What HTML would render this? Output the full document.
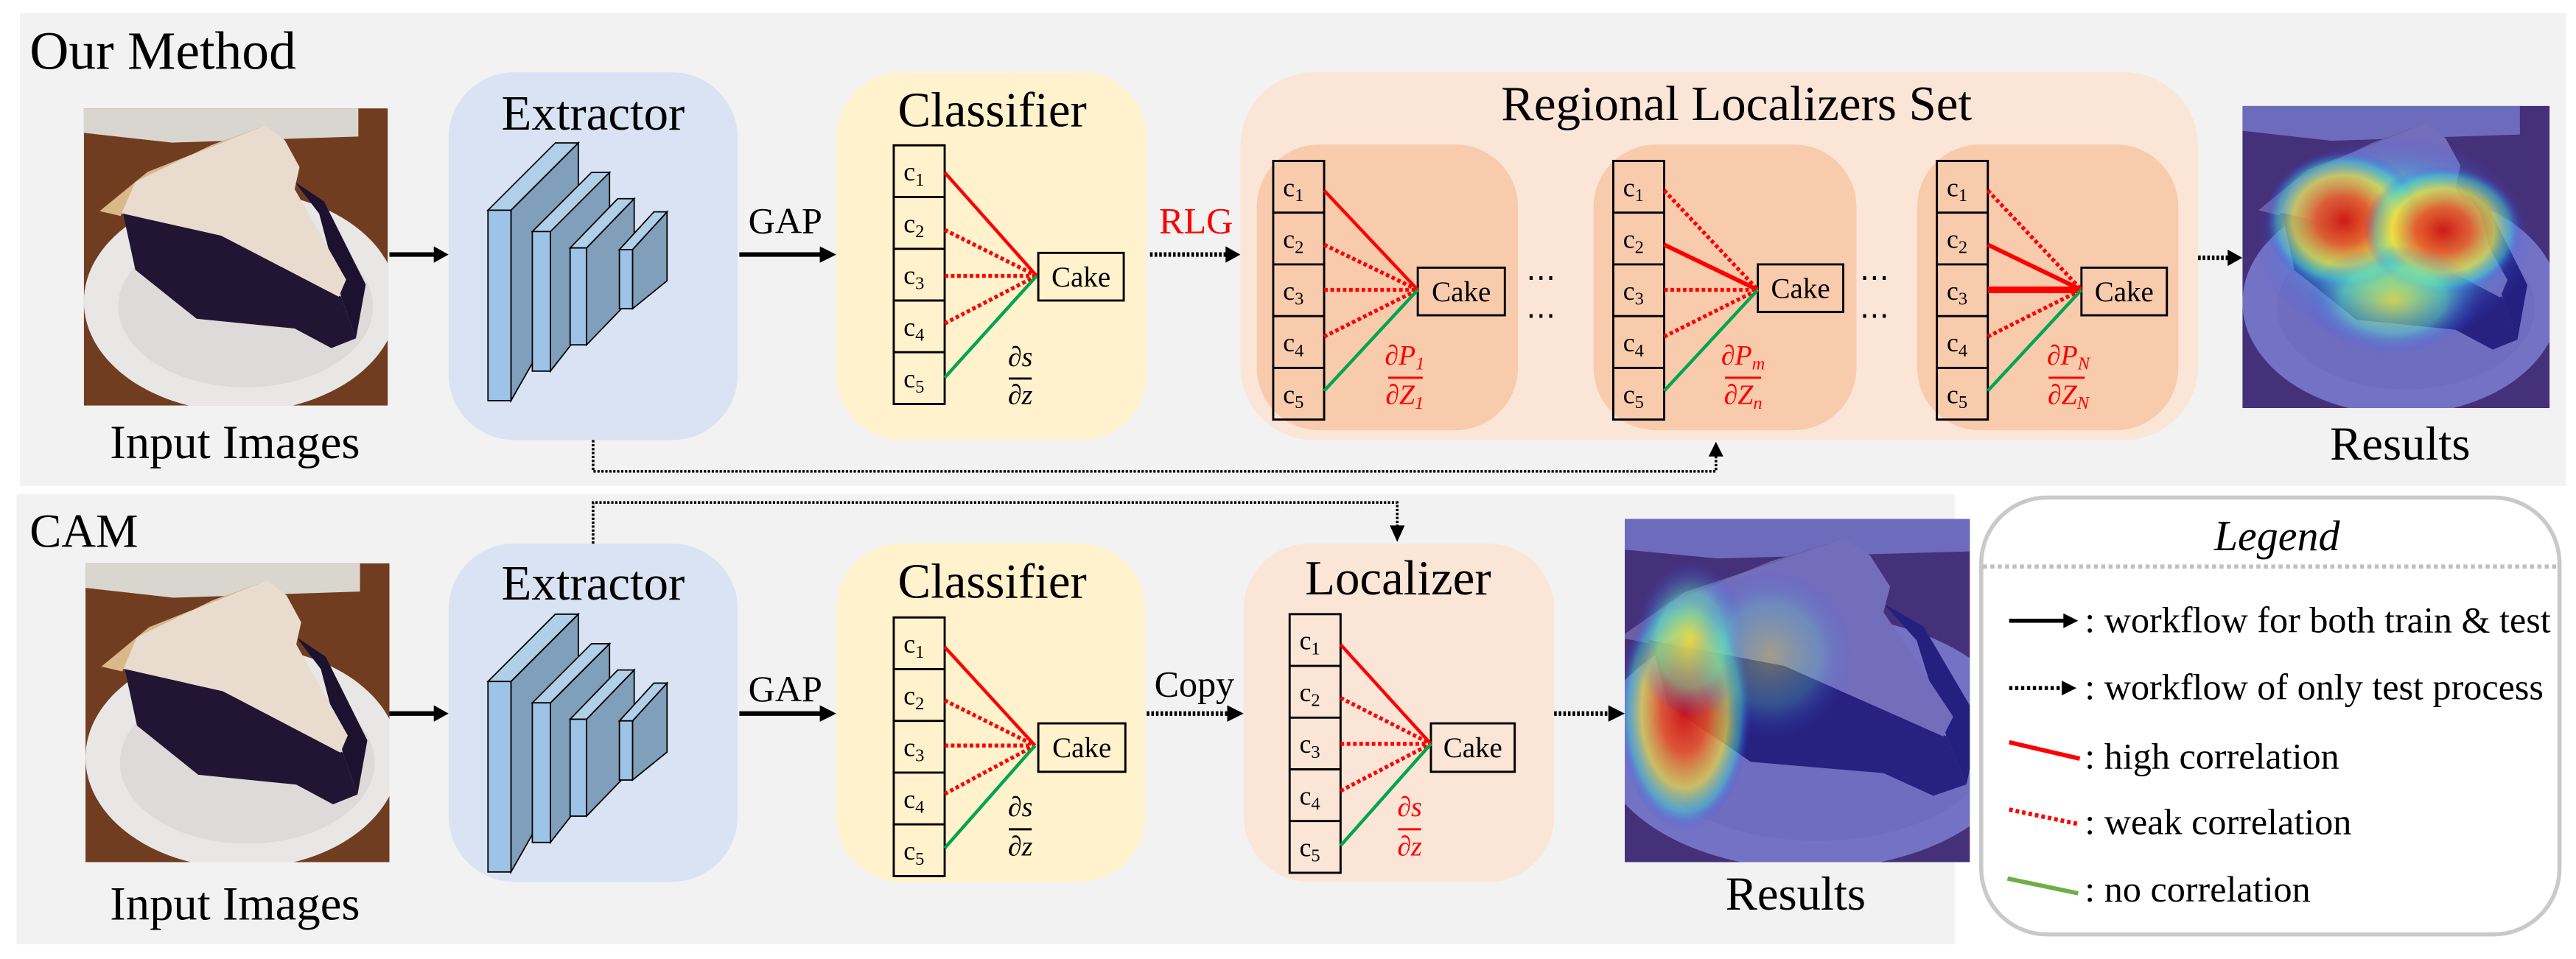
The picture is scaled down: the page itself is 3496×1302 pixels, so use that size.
<!DOCTYPE html>
<html><head><meta charset="utf-8">
<style>
html,body{margin:0;padding:0;background:#fff;}
svg{display:block;}
text{font-family:"Liberation Serif","DejaVu Serif",serif;fill:#000;}
.it{font-style:italic;}
</style></head>
<body>
<svg width="3496" height="1302" viewBox="0 0 1568 584" xmlns="http://www.w3.org/2000/svg">
<defs>
 <symbol id="pie" viewBox="40 20 1240 1215" preserveAspectRatio="none">
  <rect x="40" y="20" width="1240" height="1215" fill="#7b4424"/>
  <rect x="40" y="20" width="1240" height="1215" fill="#5a2e16" opacity="0.3"/>
  <polygon points="40,20 1160,20 1160,135 400,160 40,120" fill="#d9d6cf"/>
  <ellipse cx="680" cy="810" rx="640" ry="450" fill="#e9e6e6"/>
  <ellipse cx="700" cy="830" rx="520" ry="330" fill="#dedad9"/>
  <polygon points="900,320 1020,400 1190,740 1150,960 1090,790 1000,450" fill="#1c1230"/>
  <polygon points="200,450 600,540 1090,790 1150,960 1050,1000 900,920 500,880 250,680" fill="#221533"/>
  <polygon points="105,440 300,280 780,90 860,150 920,260 900,350 1110,720 1080,790 600,540 200,450" fill="#e9dccf"/>
  <polygon points="105,440 300,280 780,90 560,170 250,320 190,460" fill="#d9b88a"/>
 </symbol>
 <radialGradient id="hr" cx="50%" cy="50%" r="50%"><stop offset="0" stop-color="#d01010" stop-opacity="0.95"/><stop offset="0.35" stop-color="#f05020" stop-opacity="0.85"/><stop offset="0.65" stop-color="#f0e040" stop-opacity="0.7"/><stop offset="0.85" stop-color="#40d0d0" stop-opacity="0.5"/><stop offset="1" stop-color="#3040ff" stop-opacity="0"/></radialGradient>
 <radialGradient id="hy" cx="50%" cy="50%" r="50%"><stop offset="0" stop-color="#f0e040" stop-opacity="0.8"/><stop offset="0.6" stop-color="#60e0c0" stop-opacity="0.5"/><stop offset="1" stop-color="#3040ff" stop-opacity="0"/></radialGradient>
 <symbol id="heat1" viewBox="40 20 1240 1215" preserveAspectRatio="none">
  <use href="#pie" x="40" y="20" width="1240" height="1215"/>
  <rect x="40" y="20" width="1240" height="1215" fill="#2a2ab0" opacity="0.62"/>
  <ellipse cx="650" cy="560" rx="560" ry="420" fill="url(#hy)"/>
  <ellipse cx="650" cy="560" rx="480" ry="330" fill="url(#hy)"/>
  <ellipse cx="450" cy="480" rx="320" ry="280" fill="url(#hr)"/>
  <ellipse cx="850" cy="520" rx="320" ry="260" fill="url(#hr)"/>
  <ellipse cx="650" cy="800" rx="350" ry="220" fill="url(#hy)"/>
 </symbol>
 <symbol id="heat2" viewBox="40 20 1240 1215" preserveAspectRatio="none">
  <use href="#pie" x="40" y="20" width="1240" height="1215"/>
  <rect x="40" y="20" width="1240" height="1215" fill="#2a2ab0" opacity="0.62"/>
  <ellipse cx="300" cy="700" rx="200" ry="420" fill="url(#hr)"/>
  <ellipse cx="320" cy="450" rx="170" ry="280" fill="url(#hy)"/>
  <ellipse cx="560" cy="500" rx="250" ry="300" fill="url(#hy)" opacity="0.5"/>
 </symbol>
</defs>

<!-- panels -->
<rect x="12" y="8" width="1550" height="288" fill="#f2f2f2"/>
<rect x="10" y="301" width="1180" height="274" fill="#f2f2f2"/>

<text x="18" y="42" font-size="33">Our Method</text>
<text x="18" y="333" font-size="29">CAM</text>

<!-- top images -->
<use href="#pie" x="51" y="66" width="185" height="181"/>
<text x="143" y="279" font-size="29" text-anchor="middle">Input Images</text>
<use href="#pie" x="52" y="343" width="185" height="182"/>
<text x="143" y="560" font-size="29" text-anchor="middle">Input Images</text>

<!-- extractor top -->
<rect x="273" y="44" width="176" height="224" rx="40" fill="#dae3f3"/>
<text x="361" y="79" font-size="30" text-anchor="middle">Extractor</text>
<g stroke="#000" stroke-width="0.8">
 <polygon points="311,128 352,87 352,172 311,244" fill="#7f9fba"/>
 <polygon points="297,128 338,87 352,87 311,128" fill="#b0cfe8"/>
 <rect x="297" y="128" width="14" height="116" fill="#9dc3e6"/>
 <polygon points="335,141 371,105 371,180 335,226" fill="#7f9fba"/>
 <polygon points="324,141 360,105 371,105 335,141" fill="#b0cfe8"/>
 <rect x="324" y="141" width="11" height="85" fill="#9dc3e6"/>
 <polygon points="357,151 386,121 386,180 357,210" fill="#7f9fba"/>
 <polygon points="347,151 376,121 386,121 357,151" fill="#b0cfe8"/>
 <rect x="347" y="151" width="10" height="59" fill="#9dc3e6"/>
 <polygon points="385,152 406,129 406,171 385,188" fill="#7f9fba"/>
 <polygon points="377,152 398,129 406,129 385,152" fill="#b0cfe8"/>
 <rect x="377" y="152" width="8" height="36" fill="#9dc3e6"/>
</g>
<!-- extractor bottom -->
<rect x="273" y="331" width="176" height="206" rx="40" fill="#dae3f3"/>
<text x="361" y="365" font-size="30" text-anchor="middle">Extractor</text>
<g stroke="#000" stroke-width="0.8" transform="translate(0,287)">
 <polygon points="311,128 352,87 352,172 311,244" fill="#7f9fba"/>
 <polygon points="297,128 338,87 352,87 311,128" fill="#b0cfe8"/>
 <rect x="297" y="128" width="14" height="116" fill="#9dc3e6"/>
 <polygon points="335,141 371,105 371,180 335,226" fill="#7f9fba"/>
 <polygon points="324,141 360,105 371,105 335,141" fill="#b0cfe8"/>
 <rect x="324" y="141" width="11" height="85" fill="#9dc3e6"/>
 <polygon points="357,151 386,121 386,180 357,210" fill="#7f9fba"/>
 <polygon points="347,151 376,121 386,121 357,151" fill="#b0cfe8"/>
 <rect x="347" y="151" width="10" height="59" fill="#9dc3e6"/>
 <polygon points="385,152 406,129 406,171 385,188" fill="#7f9fba"/>
 <polygon points="377,152 398,129 406,129 385,152" fill="#b0cfe8"/>
 <rect x="377" y="152" width="8" height="36" fill="#9dc3e6"/>
</g>

<!-- classifier boxes -->
<rect x="509" y="44" width="189" height="224" rx="40" fill="#fff2cc"/>
<text x="604" y="77" font-size="30" text-anchor="middle">Classifier</text>
<rect x="509" y="331" width="188" height="206" rx="40" fill="#fff2cc"/>
<text x="604" y="364" font-size="30" text-anchor="middle">Classifier</text>

<!-- regional set -->
<rect x="755" y="44" width="583" height="224" rx="45" fill="#fbe5d6"/>
<text x="1057" y="73" font-size="30" text-anchor="middle">Regional Localizers Set</text>
<rect x="765" y="88" width="159" height="174" rx="38" fill="#f8cbad"/>
<rect x="970" y="88" width="160" height="174" rx="38" fill="#f8cbad"/>
<rect x="1167" y="88" width="159" height="174" rx="38" fill="#f8cbad"/>

<!-- localizer -->
<rect x="757" y="331" width="189" height="206" rx="40" fill="#fbe5d6"/>
<text x="851" y="362" font-size="30" text-anchor="middle">Localizer</text>

<!-- cell columns -->
<g fill="none" stroke="#000" stroke-width="1.3">
 <rect x="544" y="88.5" width="31" height="157.5"/><path d="M544,120 h31 M544,151.5 h31 M544,183 h31 M544,214.5 h31"/>
 <rect x="775" y="98" width="31" height="157.5"/><path d="M775,129.5 h31 M775,161 h31 M775,192.5 h31 M775,224 h31"/>
 <rect x="982" y="98" width="31" height="157.5"/><path d="M982,129.5 h31 M982,161 h31 M982,192.5 h31 M982,224 h31"/>
 <rect x="1179" y="98" width="31" height="157.5"/><path d="M1179,129.5 h31 M1179,161 h31 M1179,192.5 h31 M1179,224 h31"/>
 <rect x="544" y="376" width="31" height="157.5"/><path d="M544,407.5 h31 M544,439 h31 M544,470.5 h31 M544,502 h31"/>
 <rect x="785" y="374" width="31" height="157.5"/><path d="M785,405.5 h31 M785,437 h31 M785,468.5 h31 M785,500 h31"/>
 <rect x="632" y="154" width="52" height="29"/>
 <rect x="863" y="163" width="53" height="29"/>
 <rect x="1070" y="161" width="52" height="29"/>
 <rect x="1267" y="163" width="52" height="29"/>
 <rect x="632" y="440.5" width="53" height="29.5"/>
 <rect x="871" y="440.5" width="51" height="29.5"/>
</g>
<g font-size="16">
 <text x="550" y="110">c<tspan font-size="11" dy="3">1</tspan></text><text x="550" y="141.5">c<tspan font-size="11" dy="3">2</tspan></text><text x="550" y="173">c<tspan font-size="11" dy="3">3</tspan></text><text x="550" y="204.5">c<tspan font-size="11" dy="3">4</tspan></text><text x="550" y="236">c<tspan font-size="11" dy="3">5</tspan></text>
 <text x="781" y="119.5">c<tspan font-size="11" dy="3">1</tspan></text><text x="781" y="151">c<tspan font-size="11" dy="3">2</tspan></text><text x="781" y="182.5">c<tspan font-size="11" dy="3">3</tspan></text><text x="781" y="214">c<tspan font-size="11" dy="3">4</tspan></text><text x="781" y="245.5">c<tspan font-size="11" dy="3">5</tspan></text>
 <text x="988" y="119.5">c<tspan font-size="11" dy="3">1</tspan></text><text x="988" y="151">c<tspan font-size="11" dy="3">2</tspan></text><text x="988" y="182.5">c<tspan font-size="11" dy="3">3</tspan></text><text x="988" y="214">c<tspan font-size="11" dy="3">4</tspan></text><text x="988" y="245.5">c<tspan font-size="11" dy="3">5</tspan></text>
 <text x="1185" y="119.5">c<tspan font-size="11" dy="3">1</tspan></text><text x="1185" y="151">c<tspan font-size="11" dy="3">2</tspan></text><text x="1185" y="182.5">c<tspan font-size="11" dy="3">3</tspan></text><text x="1185" y="214">c<tspan font-size="11" dy="3">4</tspan></text><text x="1185" y="245.5">c<tspan font-size="11" dy="3">5</tspan></text>
 <text x="550" y="397.5">c<tspan font-size="11" dy="3">1</tspan></text><text x="550" y="429">c<tspan font-size="11" dy="3">2</tspan></text><text x="550" y="460.5">c<tspan font-size="11" dy="3">3</tspan></text><text x="550" y="492">c<tspan font-size="11" dy="3">4</tspan></text><text x="550" y="523.5">c<tspan font-size="11" dy="3">5</tspan></text>
 <text x="791" y="395.5">c<tspan font-size="11" dy="3">1</tspan></text><text x="791" y="427">c<tspan font-size="11" dy="3">2</tspan></text><text x="791" y="458.5">c<tspan font-size="11" dy="3">3</tspan></text><text x="791" y="490">c<tspan font-size="11" dy="3">4</tspan></text><text x="791" y="521.5">c<tspan font-size="11" dy="3">5</tspan></text>
</g>
<g font-size="17.5">
 <text x="658" y="174.5" text-anchor="middle">Cake</text>
 <text x="889.5" y="183.5" text-anchor="middle">Cake</text>
 <text x="1096" y="181.5" text-anchor="middle">Cake</text>
 <text x="1293" y="183.5" text-anchor="middle">Cake</text>
 <text x="658.5" y="461" text-anchor="middle">Cake</text>
 <text x="896.5" y="461" text-anchor="middle">Cake</text>
</g>

<!-- correlation lines -->
<g fill="none" stroke-width="2">
 <path d="M575,105 L631,168" stroke="#ff0000"/>
 <path d="M575,140 L631,168 M575,168 L631,168 M575,197 L631,168" stroke="#ff0000" stroke-dasharray="2.2 1.6" stroke-width="2.4"/>
 <path d="M575,230 L631,168" stroke="#00a550"/>

 <path d="M806,116 L863,176.5" stroke="#ff0000"/>
 <path d="M806,149 L863,176.5 M806,176.5 L863,176.5 M806,205 L863,176.5" stroke="#ff0000" stroke-dasharray="2.2 1.6" stroke-width="2.4"/>
 <path d="M806,238 L863,176.5" stroke="#00a550"/>

 <path d="M1013,149 L1070,176.5" stroke="#ff0000" stroke-width="2.6"/>
 <path d="M1013,116 L1070,176.5 M1013,176.5 L1070,176.5 M1013,205 L1070,176.5" stroke="#ff0000" stroke-dasharray="2.2 1.6" stroke-width="2.4"/>
 <path d="M1013,238 L1070,176.5" stroke="#00a550"/>

 <path d="M1210,149 L1267,176.5" stroke="#ff0000" stroke-width="2.6"/>
 <path d="M1210,176.5 L1267,176.5" stroke="#ff0000" stroke-width="4"/>
 <path d="M1210,116 L1267,176.5 M1210,205 L1267,176.5" stroke="#ff0000" stroke-dasharray="2.2 1.6" stroke-width="2.4"/>
 <path d="M1210,238 L1267,176.5" stroke="#00a550"/>

 <path d="M575,394 L630,454" stroke="#ff0000"/>
 <path d="M575,426.5 L630,454 M575,454 L630,454 M575,483.5 L630,454" stroke="#ff0000" stroke-dasharray="2.2 1.6" stroke-width="2.4"/>
 <path d="M575,516.5 L630,454" stroke="#00a550"/>

 <path d="M816,392.5 L871,453" stroke="#ff0000"/>
 <path d="M816,425 L871,453 M816,453 L871,453 M816,481.6 L871,453" stroke="#ff0000" stroke-dasharray="2.2 1.6" stroke-width="2.4"/>
 <path d="M816,515 L871,453" stroke="#00a550"/>
</g>

<!-- fractions -->
<g font-size="17" text-anchor="middle">
 <text x="621" y="223" class="it">∂s</text><path d="M614,230.5 h14" stroke="#000" stroke-width="1.3"/><text x="621" y="246" class="it">∂z</text>
 <text x="621" y="497" class="it">∂s</text><path d="M614,505 h14" stroke="#000" stroke-width="1.3"/><text x="621" y="521" class="it">∂z</text>
 <text x="858" y="497" class="it" style="fill:#f00">∂s</text><path d="M851,505 h14" stroke="#f00" stroke-width="1.3"/><text x="858" y="521" class="it" style="fill:#f00">∂z</text>
 <text x="855" y="222" class="it" style="fill:#f00">∂P<tspan font-size="11" dy="3">1</tspan></text><path d="M845,230 h21" stroke="#f00" stroke-width="1.3"/><text x="855" y="246" class="it" style="fill:#f00">∂Z<tspan font-size="11" dy="3">1</tspan></text>
 <text x="1061" y="222" class="it" style="fill:#f00">∂P<tspan font-size="11" dy="3">m</tspan></text><path d="M1050,230 h22" stroke="#f00" stroke-width="1.3"/><text x="1061" y="246" class="it" style="fill:#f00">∂Z<tspan font-size="11" dy="3">n</tspan></text>
 <text x="1259" y="222" class="it" style="fill:#f00">∂P<tspan font-size="11" dy="3">N</tspan></text><path d="M1247,230 h22" stroke="#f00" stroke-width="1.3"/><text x="1259" y="246" class="it" style="fill:#f00">∂Z<tspan font-size="11" dy="3">N</tspan></text>
</g>
<g font-size="18" text-anchor="middle">
 <text x="938" y="175">⋯</text><text x="938" y="198">⋯</text>
 <text x="1141" y="175">⋯</text><text x="1141" y="198">⋯</text>
</g>

<!-- arrows -->
<g stroke="#000" stroke-width="2.8" fill="none">
 <path d="M237,155 H266"/><path d="M450,155 H501"/>
 <path d="M237,434.5 H266"/><path d="M450,434.5 H501"/>
</g>
<g fill="#000">
 <polygon points="264,150 273,155 264,160"/><polygon points="499,150 509,155 499,160"/>
 <polygon points="264,429.5 273,434.5 264,439.5"/><polygon points="499,429.5 509,434.5 499,439.5"/>
 <polygon points="746,150 755,155 746,160"/><polygon points="1356,152 1365,157 1356,162"/>
 <polygon points="747,429.5 757,434.5 747,439.5"/><polygon points="979,429.5 989,434.5 979,439.5"/>
 <polygon points="1040,278 1044.5,269 1049,278"/><polygon points="846,320 850.5,330 855,320"/>
</g>
<g stroke="#000" stroke-width="2.8" fill="none" stroke-dasharray="1.6 1.2">
 <path d="M700,155 H747"/><path d="M1338,157 H1357"/>
 <path d="M698,434.5 H748"/><path d="M946,434.5 H980"/>
</g>
<g stroke="#000" stroke-width="1.6" fill="none" stroke-dasharray="1.4 1">
 <path d="M361,268 V287 H1044.5 V277"/>
 <path d="M361,331 V306 H850.5 V321"/>
</g>
<text x="478" y="142" font-size="22.5" text-anchor="middle">GAP</text>
<text x="478" y="427" font-size="22.5" text-anchor="middle">GAP</text>
<text x="728" y="142" font-size="22.5" text-anchor="middle" style="fill:#ff0000">RLG</text>
<text x="727" y="424" font-size="22.5" text-anchor="middle">Copy</text>

<!-- results -->
<use href="#heat1" x="1365" y="64.5" width="187" height="184"/>
<text x="1461" y="280" font-size="29" text-anchor="middle">Results</text>
<svg x="989" y="316" width="210" height="209" viewBox="120 20 1040 1215" preserveAspectRatio="none"><use href="#heat2" x="40" y="20" width="1240" height="1215"/></svg>
<text x="1093" y="554" font-size="29" text-anchor="middle">Results</text>

<!-- legend -->
<rect x="1206" y="303" width="352" height="266" rx="40" fill="#fff" stroke="#c9c9c9" stroke-width="2.5"/>
<text x="1386" y="335" font-size="26" text-anchor="middle" class="it">Legend</text>
<path d="M1207,345 H1557" stroke="#c0c0c0" stroke-width="2.5" stroke-dasharray="2.5 2"/>
<path d="M1223,378 H1258" stroke="#000" stroke-width="2.5"/><polygon points="1256,373.5 1265,378 1256,382.5" fill="#000"/>
<path d="M1223,419 H1255" stroke="#000" stroke-width="2.5" stroke-dasharray="2 1.6"/><polygon points="1255,414.5 1264,419 1255,423.5" fill="#000"/>
<path d="M1223,452 L1266,462" stroke="#ff0000" stroke-width="2.6"/>
<path d="M1223,493 L1266,502" stroke="#ff0000" stroke-width="2.6" stroke-dasharray="2.2 1.8"/>
<path d="M1222,535 L1265,544" stroke="#70ad47" stroke-width="2.6"/>
<g font-size="22.5">
 <text x="1269" y="385">: workflow for both train &amp; test</text>
 <text x="1269" y="426">: workflow of only test process</text>
 <text x="1269" y="468">: high correlation</text>
 <text x="1269" y="508">: weak correlation</text>
 <text x="1269" y="549">: no correlation</text>
</g>
</svg>
</body></html>
